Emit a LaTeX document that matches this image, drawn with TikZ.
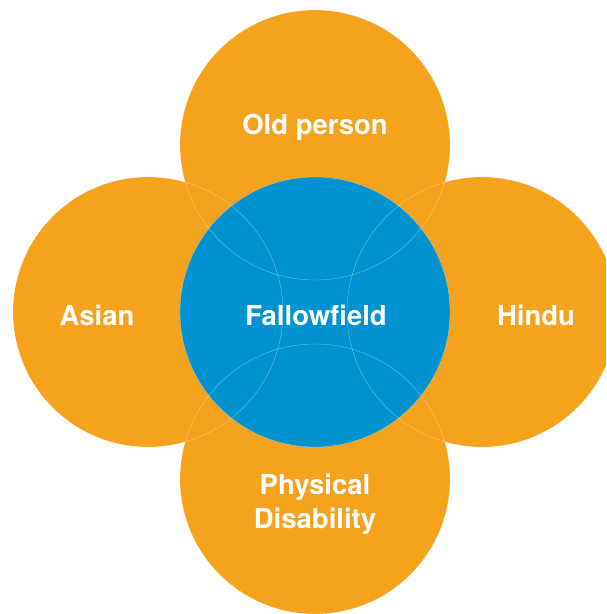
\documentclass[tikz,border=0pt]{standalone}
\usepackage{fontspec}
\setmainfont{TeX Gyre Heros}
\definecolor{ringorange}{HTML}{F5A21D}
\definecolor{ringblue}{HTML}{0093CF}
\tikzset{
  disc/.style={shape=circle,minimum size=270pt,inner sep=0pt},
  ring/.style={draw=white,draw opacity=.45,line width=.35pt},
  tag/.style={text=white,font=\bfseries\fontsize{27.5}{34}\selectfont,align=center}
}
\begin{document}
\begin{tikzpicture}[x=1pt,y=-1pt]
    \useasboundingbox (0,0) rectangle (606,614);
    \clip (0,0) rectangle (606,614);
        \node[disc,fill=ringorange] (T) at (315,145) {};
        \node[disc,fill=ringorange] (L) at (148,312) {};
        \node[disc,fill=ringorange] (R) at (482,312) {};
        \node[disc,fill=ringorange] (B) at (315,479) {};
        \node[disc,fill=ringblue] (C) at (315,312) {};
        \draw[ring] (T) circle[radius=135];
        \draw[ring] (L) circle[radius=135];
        \draw[ring] (R) circle[radius=135];
        \draw[ring] (B) circle[radius=135];
        \draw[ring] (C) circle[radius=135];
        \node[tag] (Told) at (315,127) {Old person};
        \node[tag] (Tasian) at (97,315) {Asian};
        \node[tag] (Tfallow) at (316,315) {Fallowfield};
        \node[tag] (Thindu) at (536,315) {Hindu};
        \node[tag] (Tphys) at (315,504) {Physical\\Disability};
    \end{tikzpicture}
\end{document}
